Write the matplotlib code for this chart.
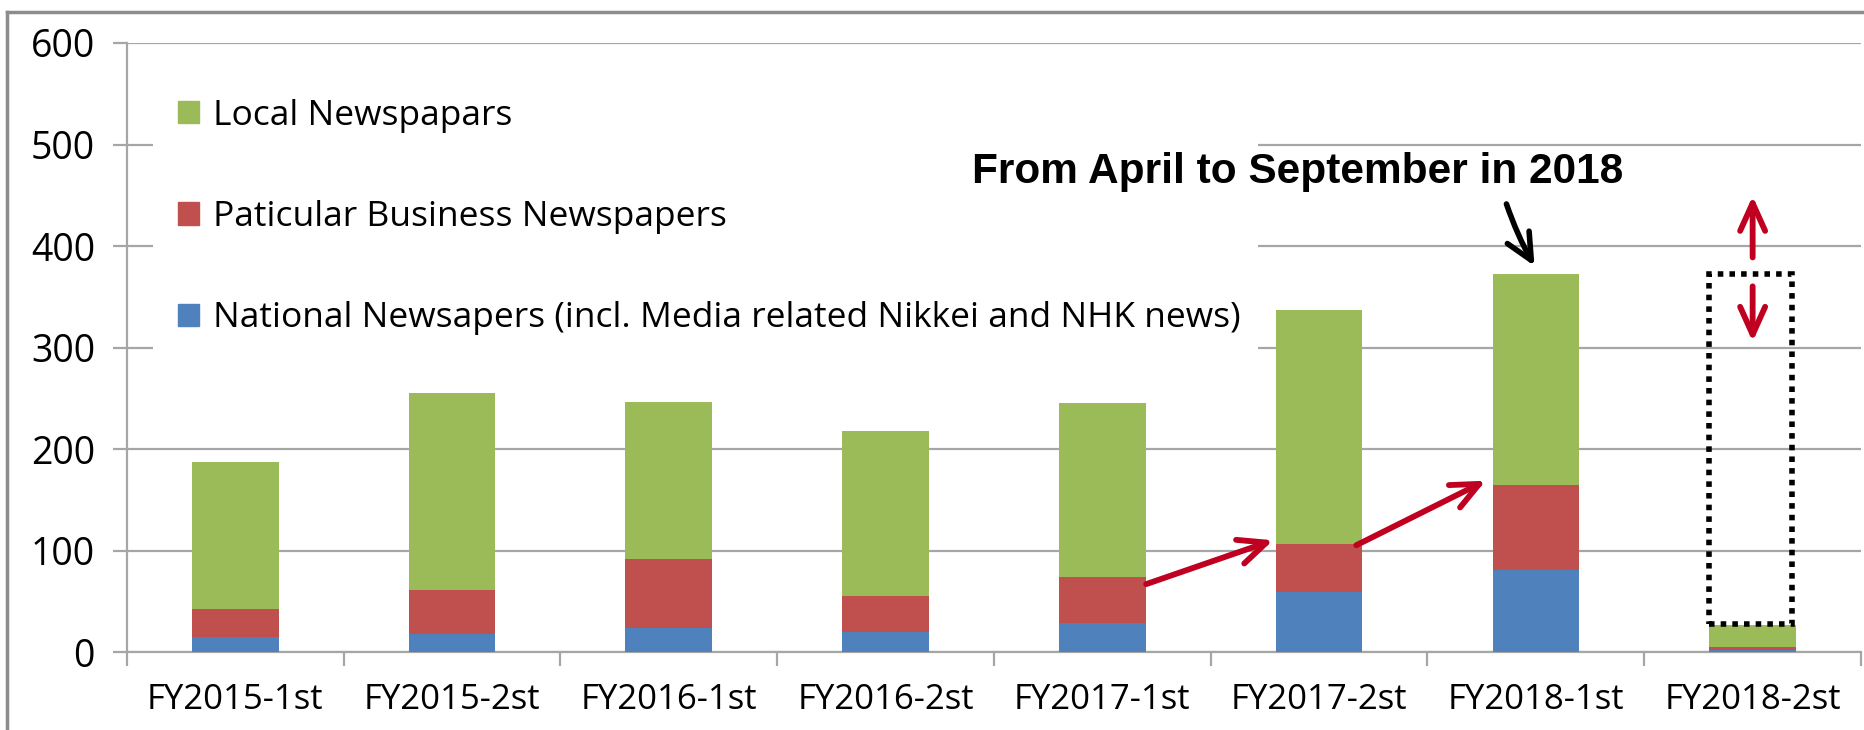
import matplotlib
matplotlib.use("Agg")
import matplotlib.pyplot as plt
from matplotlib.patches import Patch, Rectangle
from matplotlib.lines import Line2D

# half-year periods and article counts per newspaper type
periods = ['FY2015-1st', 'FY2015-2st', 'FY2016-1st', 'FY2016-2st',
           'FY2017-1st', 'FY2017-2st', 'FY2018-1st', 'FY2018-2st']
national = [15, 18, 24, 20, 29, 59, 81, 2]
particular = [27, 43, 68, 35, 45, 47, 84, 3]
local = [145, 194, 154, 163, 171, 231, 207, 22]

series_names = ['National Newsapers (incl. Media related Nikkei and NHK news)',
                'Paticular Business Newspapers',
                'Local Newspapars']

blue = '#4F81BD'
red = '#C0504D'
green = '#9BBB59'
grid_col = '#A6A6A6'
arrow_red = '#C00020'

plt.rcParams['font.family'] = ['Open Sans', 'DejaVu Sans']

fig = plt.figure(figsize=(18.64, 7.30), dpi=100)
ax = fig.add_axes([0.0681, 0.1068, 0.9303, 0.8343])

x = list(range(len(periods)))
bottom2 = [a + b for a, b in zip(national, particular)]
ax.bar(x, national, width=0.4, color=blue, zorder=3)
ax.bar(x, particular, width=0.4, bottom=national, color=red, zorder=3)
ax.bar(x, local, width=0.4, bottom=bottom2, color=green, zorder=3)

ax.set_xlim(-0.5, len(periods) - 0.5)
ax.set_ylim(0, 600)
ax.set_yticks(range(0, 601, 100))
ax.set_xticks([i - 0.5 for i in range(len(periods) + 1)])
ax.set_xticklabels([])
ax.set_xticks(x, minor=True)
ax.set_xticklabels(periods, minor=True)

ax.yaxis.grid(True, color=grid_col, linewidth=1.6, zorder=0)
for s in ['top', 'right']:
    ax.spines[s].set_visible(False)
for s in ['left', 'bottom']:
    ax.spines[s].set_color(grid_col)
    ax.spines[s].set_linewidth(1.6)

ax.tick_params(axis='y', length=10, width=1.6, color=grid_col, pad=13, labelsize=27)
ax.tick_params(axis='x', which='major', length=10, width=1.6, color=grid_col)
ax.tick_params(axis='x', which='minor', length=0, pad=22, labelsize=25)

# white legend area hides the grid lines behind it
ax.add_patch(Rectangle((-0.38, 268), 5.1, 290, facecolor='white',
                       edgecolor='none', zorder=2))
handles = [Patch(color=green), Patch(color=red), Patch(color=blue)]
leg = ax.legend(handles, series_names[::-1], loc='upper left',
                bbox_to_anchor=(0.013, 0.955), fontsize=25.5, frameon=False,
                handlelength=0.6, handleheight=0.6, handletextpad=0.4,
                labelspacing=1.9, borderpad=0.3)
leg.set_zorder(4)

# annotation for FY2018-1st
ax.text(4.9, 473, 'From April to September in 2018', ha='center', va='center',
        fontsize=30.5, fontweight='bold', family='Liberation Sans', zorder=6)
ax.annotate('', xy=(6.0, 378), xytext=(5.86, 444),
            arrowprops=dict(arrowstyle='->,head_length=1.9,head_width=0.9',
                            color='black', lw=4,
                            connectionstyle='arc3,rad=0.05'), zorder=6)

red_arrow = dict(arrowstyle='->,head_length=2.0,head_width=0.9',
                 color=arrow_red, lw=4.2)

# red arrows showing growth
for (x0, y0), (x1, y1) in [((4.19, 66), (4.8, 111)), ((5.16, 104), (5.78, 170))]:
    ax.annotate('', xy=(x1, y1), xytext=(x0, y0), arrowprops=red_arrow, zorder=6)

# double arrow for FY2018-2st (up and down)
ax.annotate('', xy=(7.0, 452), xytext=(7.0, 386), arrowprops=red_arrow, zorder=6)
ax.annotate('', xy=(7.0, 303), xytext=(7.0, 363), arrowprops=red_arrow, zorder=6)

# dotted box: expected total for FY2018-2st
box = Rectangle((6.8, 28), 0.38, 372 - 28, fill=False, edgecolor='black',
                linestyle=(0, (1, 1.1)), linewidth=4, zorder=5)
ax.add_patch(box)

# outer chart border (left and top only visible)
fig.add_artist(Line2D([7 / 1864, 7 / 1864], [0, 1 - 12 / 730],
                      color='#8C8C8C', lw=2.5, transform=fig.transFigure))
fig.add_artist(Line2D([7 / 1864, 1], [1 - 12 / 730, 1 - 12 / 730],
                      color='#8C8C8C', lw=2.5, transform=fig.transFigure))

fig.savefig('out.png', dpi=100)
